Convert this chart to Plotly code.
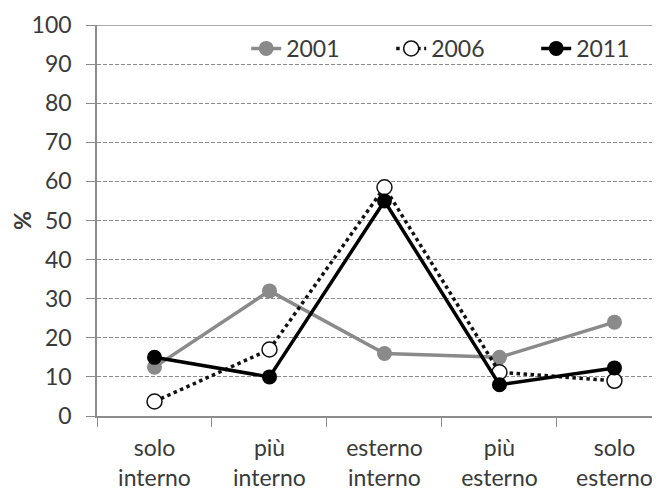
import plotly.graph_objects as go

categories = ["solo<br>interno", "più<br>interno", "esterno<br>interno", "più<br>esterno", "solo<br>esterno"]
v2001 = [12.5, 32, 16, 15, 24]
v2006 = [3.7, 17, 58.5, 11.2, 9]
v2011 = [15, 10, 55, 8, 12.3]
yticks = [0, 10, 20, 30, 40, 50, 60, 70, 80, 90, 100]

FONT = "Lato"
TXT = "#3a3a3a"

fig = go.Figure()
fig.add_trace(go.Scatter(x=categories, y=v2001, name="2001", mode="lines+markers",
                         line=dict(color="#8a8a8a", width=3.5),
                         marker=dict(size=15, color="#8a8a8a")))
fig.add_trace(go.Scatter(x=categories, y=v2006, name="2006", mode="lines+markers",
                         line=dict(color="#111111", width=3.5, dash="dot"),
                         marker=dict(size=15, color="white", line=dict(color="#111111", width=1.5))))
fig.add_trace(go.Scatter(x=categories, y=v2011, name="2011", mode="lines+markers",
                         line=dict(color="#000000", width=3.5),
                         marker=dict(size=15, color="#000000")))

fig.update_layout(
    width=652, height=485,
    margin=dict(l=89, r=0, t=17, b=77, autoexpand=False),
    paper_bgcolor="white", plot_bgcolor="white",
    font=dict(family=FONT, size=23, color=TXT),
    showlegend=True,
    legend=dict(orientation="h", x=0.265, xanchor="left", y=0.94, yanchor="middle",
                bgcolor="rgba(0,0,0,0)", font=dict(size=23, color=TXT),
                entrywidth=100, entrywidthmode="pixels", tracegroupgap=0),
    xaxis=dict(type="category", range=[-0.5, 4.396], tickson="boundaries",
               ticks="outside", ticklen=9, tickcolor="#8c8c8c", tickwidth=1,
               showline=True, linecolor="#8c8c8c", linewidth=1.5,
               showgrid=False, zeroline=False, automargin=False,
               ticklabelstandoff=11,
               tickfont=dict(size=23, color=TXT)),
    yaxis=dict(range=[0, 100], tickvals=yticks, ticks="outside", ticklen=9,
               tickcolor="#8c8c8c", tickwidth=1,
               showline=True, linecolor="#8c8c8c", linewidth=1.5,
               showgrid=True, gridcolor="#8c8c8c", gridwidth=1, griddash="4px,2px",
               zeroline=False, ticklabelstandoff=10, automargin=False,
               title=dict(text="<b>%</b>", font=dict(size=23, color=TXT), standoff=16),
               tickfont=dict(size=23, color=TXT)),
)
# solid top border line at 100
fig.add_shape(type="line", xref="paper", yref="y", x0=-0.016, x1=1, y0=100, y1=100,
              line=dict(color="#8c8c8c", width=1.5), layer="below")

fig.write_html("out.html")
